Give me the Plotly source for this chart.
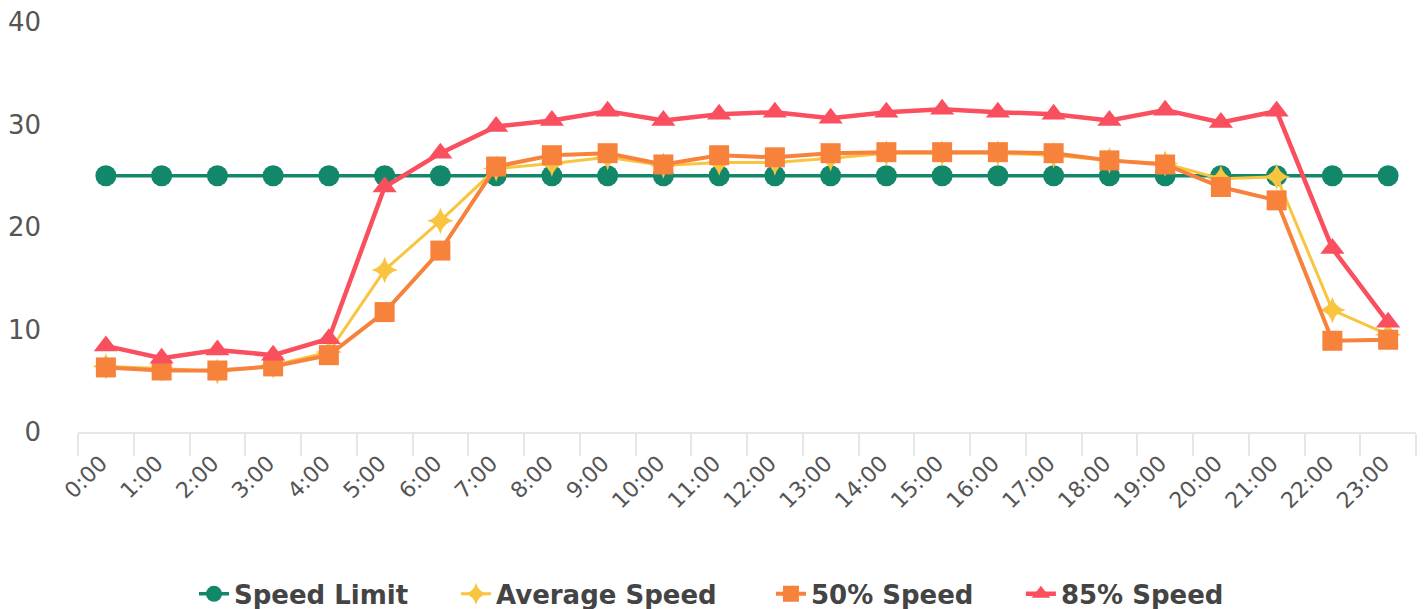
import plotly.graph_objects as go

hours = [f"{h}:00" for h in range(24)]
speed_limit = [25] * 24
average_speed = [6.4, 6.2, 5.9, 6.5, 7.8, 15.8, 20.6, 25.7, 26.2, 26.8, 26.0, 26.3,
                 26.3, 26.7, 27.2, 27.2, 27.2, 27.0, 26.5, 26.2, 24.7, 24.9, 11.9, 9.5]
speed_50 = [6.3, 6.0, 6.0, 6.4, 7.5, 11.7, 17.7, 25.9, 27.0, 27.2, 26.1, 27.0,
            26.8, 27.2, 27.3, 27.3, 27.3, 27.2, 26.5, 26.1, 23.9, 22.6, 8.9, 9.0]
speed_85 = [8.4, 7.2, 8.0, 7.5, 9.1, 23.9, 27.2, 29.8, 30.4, 31.3, 30.4, 31.0,
            31.2, 30.6, 31.2, 31.5, 31.2, 31.0, 30.4, 31.4, 30.2, 31.3, 17.9, 10.7]
y_ticks = [0, 10, 20, 30, 40]

FONT = "DejaVu Sans"
fig = go.Figure()
fig.add_trace(go.Scatter(x=hours, y=speed_limit, name="Speed Limit", mode="lines+markers",
                         legend="legend",
                         line=dict(color="#12876a", width=3.5),
                         marker=dict(symbol="circle", size=21, color="#12876a")))
fig.add_trace(go.Scatter(x=hours, y=average_speed, name="Average Speed", mode="lines+markers",
                         legend="legend2",
                         line=dict(color="#f9c440", width=3),
                         marker=dict(symbol="star-diamond", size=19, color="#f9c440")))
fig.add_trace(go.Scatter(x=hours, y=speed_50, name="50% Speed", mode="lines+markers",
                         legend="legend3",
                         line=dict(color="#f7823c", width=4),
                         marker=dict(symbol="square", size=20, color="#f7823c")))
fig.add_trace(go.Scatter(x=hours, y=speed_85, name="85% Speed", mode="lines+markers",
                         legend="legend4",
                         line=dict(color="#f94f5e", width=4.5),
                         marker=dict(symbol="triangle-up", size=21, color="#f94f5e")))

leg_font = dict(family=FONT, size=26, color="#444444", weight="bold")
def leg(x):
    return dict(orientation="h", x=x, xanchor="left", y=-0.395, yanchor="middle",
                font=leg_font, bgcolor="rgba(0,0,0,0)")

# the page body adds an 8px offset, so margins are set 8px smaller at top/left
fig.update_layout(
    width=1427, height=609,
    margin=dict(l=70, r=19, t=14, b=185, autoexpand=False),
    paper_bgcolor="white", plot_bgcolor="white",
    font=dict(family=FONT, color="#555555"),
    showlegend=True,
    legend=leg(0.0867), legend2=leg(0.2825), legend3=leg(0.5179), legend4=leg(0.7047),
)
fig.update_xaxes(type="category", range=[-0.5, 23.5], tickson="boundaries",
                 ticks="outside", ticklen=22, tickcolor="#e6e6e6", tickwidth=1.5,
                 showline=True, linecolor="#e6e6e6", linewidth=1.5,
                 showgrid=False, tickangle=-45, automargin=False,
                 ticklabelshift=-5, ticklabelstandoff=8,
                 tickfont=dict(family=FONT, size=22, color="#555555"))
fig.update_yaxes(range=[0, 40], tickvals=y_ticks, showgrid=False, zeroline=False,
                 showline=False, ticklabelstandoff=36, automargin=False,
                 ticklabeloverflow="allow",
                 tickfont=dict(family=FONT, size=26, color="#555555"))

fig.write_html("out.html")
